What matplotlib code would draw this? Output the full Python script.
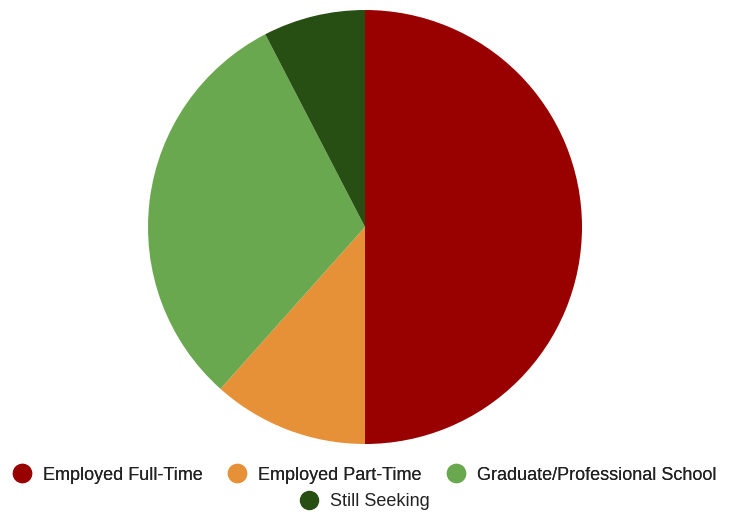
import matplotlib.pyplot as plt
from matplotlib.lines import Line2D

plt.rcParams['font.family'] = ['Liberation Sans', 'DejaVu Sans']

labels = ['Employed Full-Time', 'Employed Part-Time', 'Graduate/Professional School', 'Still Seeking']
values = [50.0, 11.6, 30.8, 7.6]
colors = ['#990000', '#e69138', '#6aa84f', '#274e13']

fig = plt.figure(figsize=(7.29, 5.15), dpi=100)
ax = fig.add_axes([0, 0, 1, 1])
ax.pie(values, colors=colors, startangle=90, counterclock=False,
       center=(365, 288), radius=217, frame=True)
ax.set_xlim(0, 729)
ax.set_ylim(0, 515)
ax.set_aspect('equal')
ax.axis('off')

handles = [Line2D([], [], marker='o', linestyle='', markersize=13,
                  markerfacecolor=c, markeredgecolor=c) for c in colors]

# legend: 3 entries on top row, last one centred below
leg_kw = dict(loc='center', frameon=False, fontsize=13, handlelength=1.0,
              handletextpad=0.67, columnspacing=1.4, labelcolor='#222222')
leg1 = fig.legend(handles[:3], labels[:3], bbox_to_anchor=(0.5, 1 - 475 / 515),
                  ncol=3, **leg_kw)
fig.add_artist(leg1)
fig.legend(handles[3:], labels[3:], bbox_to_anchor=(0.5, 1 - 502 / 515),
           ncol=1, **leg_kw)

fig.savefig('out.png', dpi=100)
